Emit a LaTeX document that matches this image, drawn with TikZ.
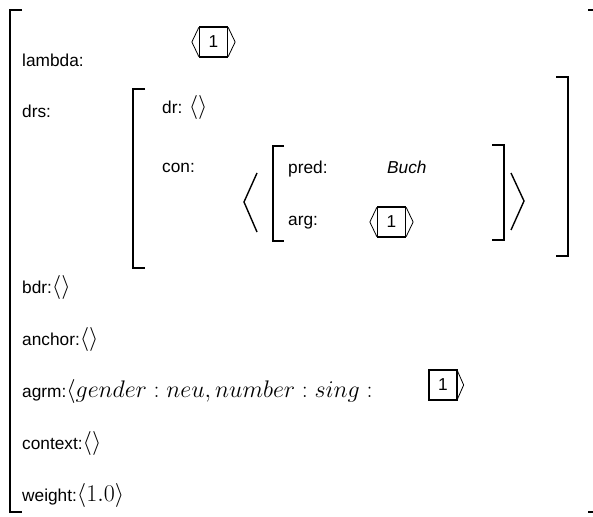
\RequirePackage{fix-cm}
\documentclass[tikz,border=0pt]{standalone}
\usepackage{fontspec}
\setmainfont{Liberation Sans}
\setsansfont{Liberation Sans}
\newcommand\mymth[1]{{\fontsize{24}{28}\selectfont$#1$}}
\begin{document}
\begin{tikzpicture}[x=1pt,y=-1pt,
  brk/.style={line width=1.8pt},
  ang/.style={line width=0.8pt,line join=miter},
  bigang/.style={line width=1.4pt,line join=miter},
  lbl/.style={anchor=base west,inner sep=0pt,font=\fontsize{17.28}{20}\selectfont},
  refbox/.style={draw,line width=1.3pt,minimum width=28pt,minimum height=30pt,inner sep=0pt,font=\fontsize{17.28}{20}\selectfont}]
\useasboundingbox (0,0) rectangle (593,516);
% outer brackets
\draw[brk] (22,10) -- (10,10) -- (10,512) -- (22,512);
\draw[brk] (588,10) -- (593,10);
\draw[brk] (588,512) -- (593,512);
% labels
\node[lbl] (lambda) at (22,67) {lambda:};
\node[refbox] (box1) at (213.5,42) {1};
\draw[ang] ([yshift=-1pt]box1.north west) -- ([xshift=-7pt]box1.west) -- ([yshift=1pt]box1.south west);
\draw[ang] ([yshift=-1pt]box1.north east) -- ([xshift=7pt]box1.east) -- ([yshift=1pt]box1.south east);
\node[lbl] (drs) at (22,117) {drs:};
% drs brackets
\draw[brk] (145,89) -- (133,89) -- (133,268) -- (145,268);
\draw[brk] (556,77) -- (568,77) -- (568,256) -- (556,256);
\node[lbl] (dr) at (162,113) {dr: \mymth{\langle\rangle}};
\node[lbl] (con) at (162,172) {con:};
% big angles
\draw[bigang] (257,173) -- (244,202) -- (257,232);
\draw[bigang] (511,173) -- (524,201) -- (511,230);
% inner brackets
\draw[brk] (284,146) -- (273,146) -- (273,241) -- (284,241);
\draw[brk] (492,145) -- (504,145) -- (504,240) -- (492,240);
\node[lbl] (pred) at (288,173) {pred:};
\node[lbl] (buch) at (387,173) {\itshape Buch};
\node[lbl] (arg) at (288,225) {arg:};
\node[refbox] (box2) at (391.5,222) {1};
\draw[ang] ([yshift=-1pt]box2.north west) -- ([xshift=-7pt]box2.west) -- ([yshift=1pt]box2.south west);
\draw[ang] ([yshift=-1pt]box2.north east) -- ([xshift=7pt]box2.east) -- ([yshift=1pt]box2.south east);
% lower rows
\node[lbl] (bdr) at (22,293) {bdr:\mymth{\langle\rangle}};
\node[lbl] (anch) at (22,345) {anchor:\mymth{\langle\rangle}};
\node[lbl] (agrm) at (22,397) {agrm:\mymth{\langle gender: neu, number: sing:}};
\node[refbox] (box3) at (443,385) {1};
\draw[ang] ([yshift=-2pt]box3.north east) -- ([xshift=6pt]box3.east) -- ([yshift=2pt]box3.south east);
\node[lbl] (context) at (22,449) {context:\mymth{\langle\rangle}};
\node[lbl] (weight) at (22,501) {weight:\mymth{\langle 1.0\rangle}};
\end{tikzpicture}
\end{document}
